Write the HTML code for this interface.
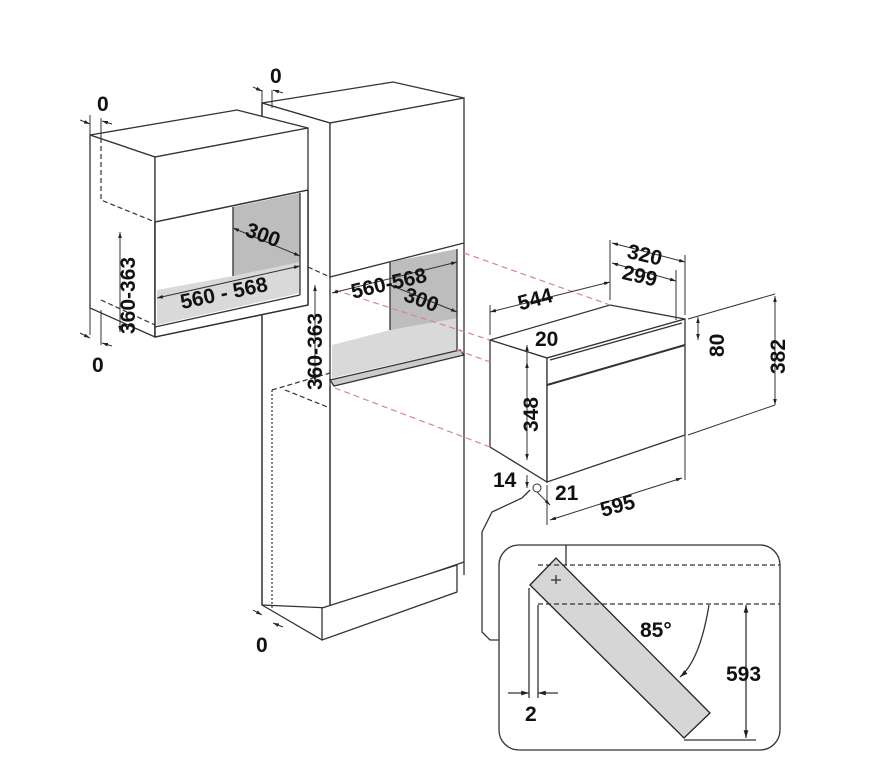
<!DOCTYPE html>
<html><head><style>
html,body{margin:0;padding:0;background:#fff;}
svg{display:block;}
text{font-family:"Liberation Sans",Arial,sans-serif;font-weight:bold;fill:#111;}
</style></head><body>
<svg width="878" height="766" viewBox="0 0 878 766" xmlns="http://www.w3.org/2000/svg">
<defs>
<marker id="a" viewBox="0 0 10 10" refX="10" refY="5" markerWidth="6" markerHeight="6" orient="auto-start-reverse"><path d="M0,2 L10,5 L0,8 z" fill="#222"/></marker>
</defs>
<g stroke="#333" stroke-width="1.3" fill="none">
<!-- TALL CABINET -->
<polygon points="262,103 393,82 464,98 330,123" fill="#fff"/>
<polygon points="262,103 330,123 330,608 262,605" fill="#fff"/>
<polygon points="330,123 464,98 464,243 330,277" fill="#fff"/>
<polygon points="390,262 457,249 457,345 390,360" fill="#bdbdbd" stroke="none"/>
<polygon points="332,345 390,330 457,318 457,350 332,378" fill="#d9d9d9" stroke="none"/>
<line x1="390" y1="262" x2="390" y2="330"/>
<line x1="457" y1="249" x2="457" y2="350"/>
<line x1="464" y1="243" x2="464" y2="575"/>
<polygon points="330,380 460,350 464,355 334,386" fill="#ccc"/>
<line x1="330" y1="386" x2="330" y2="608"/>
<line x1="330" y1="608" x2="464" y2="562"/>
<polygon points="322,608 457,565 457,592 322,640" fill="#fff"/>
<line x1="262" y1="605" x2="322" y2="640"/>
<line x1="262" y1="103" x2="262" y2="605"/>
<!-- LEFT WALL CABINET -->
<polygon points="90,135 237,110 308,128 155,157" fill="#fff"/>
<polygon points="90,135 155,157 155,337 90,308" fill="#fff"/>
<polygon points="155,157 308,128 308,305 155,337" fill="#fff"/>
<polygon points="155,222 308,190 308,305 155,337" fill="#fff"/>
<polygon points="233,207 300,193 300,290 233,304" fill="#bdbdbd" stroke="none"/>
<polygon points="157,290 233,276 300,262 300,293 157,325" fill="#d9d9d9" stroke="none"/>
<line x1="155" y1="222" x2="308" y2="190"/>
<polyline points="233,207 233,276"/>
<line x1="155" y1="222" x2="155" y2="337"/>
<line x1="300" y1="193" x2="300" y2="295"/>
<line x1="308" y1="190" x2="308" y2="305"/>
<line x1="155" y1="327" x2="300" y2="295"/>
<line x1="155" y1="337" x2="308" y2="305"/>
<!-- OVEN -->
<polygon points="490,340 610,305 685,319 547,358" fill="#fff"/>
<polygon points="490,340 547,358 547,482 490,447" fill="#fff"/>
<polygon points="547,358 685,319 685,435 547,482" fill="#fff"/>
<line x1="547" y1="385" x2="685" y2="345" stroke-width="2"/>
<line x1="550" y1="360" x2="682" y2="323"/>
<!-- INSET -->
<rect x="499" y="545" width="281" height="205" rx="20" ry="20"/>
<polyline points="499,640 490,640 482,632 482,532 492,512 522,498 530,490"/>
<line x1="566" y1="545" x2="566" y2="565"/>
<polygon points="530,585 556,558 710,713 684,738" fill="#d6d6d6" stroke="#222"/>
<line x1="556" y1="584" x2="556" y2="575" />
<line x1="551" y1="580" x2="561" y2="580"/>
<line x1="529" y1="588" x2="529" y2="698"/>
<line x1="538" y1="605" x2="538" y2="698"/>
<line x1="684" y1="740" x2="756" y2="740"/>
<line x1="746" y1="605" x2="746" y2="738" marker-start="url(#a)" marker-end="url(#a)"/>
<path d="M709,605 Q700,660 680,677" marker-end="url(#a)"/>
<line x1="508" y1="693" x2="529" y2="693" marker-end="url(#a)"/>
<line x1="558" y1="693" x2="538" y2="693" marker-end="url(#a)"/>
</g>
<g stroke="#333" stroke-width="1.2" fill="none" stroke-dasharray="5,3">
<line x1="538" y1="565" x2="780" y2="565"/>
<line x1="538" y1="604" x2="780" y2="604"/>
<polyline points="101,138 101,200 155,222"/>
<line x1="101" y1="300" x2="155" y2="325"/>
<line x1="308" y1="267" x2="330" y2="277"/>
<polyline points="272,390 272,610" stroke-dasharray="2,2"/>
<line x1="272" y1="390" x2="330" y2="373"/>
<line x1="285" y1="390" x2="330" y2="408"/>
</g>
<g stroke="#d9868a" stroke-width="1.2" fill="none" stroke-dasharray="6,4">
<line x1="464" y1="253" x2="610" y2="305"/>
<line x1="335" y1="290" x2="490" y2="340"/>
<line x1="457" y1="350" x2="490" y2="362"/>
<line x1="335" y1="388" x2="490" y2="447"/>
</g>
<g stroke="#333" stroke-width="1" fill="none">
<line x1="490" y1="335" x2="490" y2="305"/>
<line x1="610" y1="300" x2="610" y2="240"/>
<line x1="685" y1="315" x2="685" y2="255"/>
<line x1="676" y1="320" x2="676" y2="270"/>
<line x1="685" y1="319" x2="685" y2="480"/>
<line x1="547" y1="485" x2="547" y2="525"/>
<line x1="490" y1="312" x2="610" y2="282" marker-start="url(#a)" marker-end="url(#a)"/>
<line x1="612" y1="243" x2="685" y2="262" marker-start="url(#a)" marker-end="url(#a)"/>
<line x1="612" y1="263" x2="676" y2="281" marker-start="url(#a)" marker-end="url(#a)"/>
<line x1="550" y1="520" x2="682" y2="478" marker-start="url(#a)" marker-end="url(#a)"/>
<line x1="688" y1="319" x2="775" y2="294"/>
<line x1="688" y1="435" x2="775" y2="405"/>
<line x1="775" y1="296" x2="775" y2="405" marker-start="url(#a)" marker-end="url(#a)"/>
<line x1="698" y1="317" x2="698" y2="340" marker-start="url(#a)" marker-end="url(#a)"/>
<line x1="527" y1="345" x2="527" y2="362" marker-start="url(#a)"/>
<line x1="527" y1="362" x2="527" y2="460" marker-start="url(#a)" marker-end="url(#a)"/>
<line x1="527" y1="475" x2="527" y2="488" marker-end="url(#a)"/>
<circle cx="537" cy="488" r="4" fill="#fff"/>
<line x1="537" y1="492" x2="550" y2="505" marker-end="url(#a)"/>
<line x1="233" y1="228" x2="300" y2="256" marker-start="url(#a)" marker-end="url(#a)"/>
<line x1="157" y1="298" x2="300" y2="266" marker-start="url(#a)" marker-end="url(#a)"/>
<line x1="120" y1="232" x2="120" y2="332" marker-start="url(#a)" marker-end="url(#a)"/>
<line x1="332" y1="293" x2="457" y2="262" marker-start="url(#a)" marker-end="url(#a)"/>
<line x1="390" y1="285" x2="457" y2="312" marker-start="url(#a)" marker-end="url(#a)"/>
<line x1="315" y1="285" x2="315" y2="382" marker-start="url(#a)" marker-end="url(#a)"/>
<line x1="80" y1="120" x2="90" y2="124" marker-end="url(#a)"/>
<line x1="112" y1="124" x2="102" y2="121" marker-end="url(#a)"/>
<line x1="90" y1="115" x2="90" y2="135"/>
<line x1="101" y1="118" x2="101" y2="138"/>
<line x1="90" y1="308" x2="90" y2="335"/>
<line x1="101" y1="310" x2="101" y2="345"/>
<line x1="80" y1="333" x2="90" y2="338" marker-end="url(#a)"/>
<line x1="112" y1="346" x2="102" y2="343" marker-end="url(#a)"/>
<line x1="262" y1="90" x2="262" y2="103"/>
<line x1="272" y1="90" x2="272" y2="108"/>
<line x1="253" y1="87" x2="262" y2="91" marker-end="url(#a)"/>
<line x1="283" y1="93" x2="273" y2="90" marker-end="url(#a)"/>
<line x1="253" y1="610" x2="262" y2="615" marker-end="url(#a)"/>
<line x1="283" y1="627" x2="273" y2="623" marker-end="url(#a)"/>
</g>
<g font-size="21">
<text x="97" y="111">0</text>
<text x="92" y="372">0</text>
<text x="270" y="83">0</text>
<text x="256" y="652">0</text>
<text x="243" y="242" transform="rotate(20 262 242)">300</text>
<text x="180" y="302" transform="rotate(-12 215 296)">560 - 568</text>
<text x="135" y="334" transform="rotate(-90 135 334)">360-363</text>
<text x="350" y="290" transform="rotate(-13 390 282)">560-568</text>
<text x="404" y="308" transform="rotate(20 425 300)">300</text>
<text x="322" y="390" transform="rotate(-90 322 390)">360-363</text>
<text x="518" y="305" transform="rotate(-15 540 300)">544</text>
<text x="627" y="262" transform="rotate(13 645 256)">320</text>
<text x="622" y="283" transform="rotate(13 640 277)">299</text>
<text x="535" y="346">20</text>
<text x="538" y="432" transform="rotate(-90 538 432)">348</text>
<text x="493" y="487">14</text>
<text x="555" y="500">21</text>
<text x="600" y="512" transform="rotate(-15 620 505)">595</text>
<text x="724" y="357" transform="rotate(-90 724 357)">80</text>
<text x="785" y="374" transform="rotate(-90 785 374)">382</text>
<text x="640" y="637">85°</text>
<text x="726" y="681">593</text>
<text x="525" y="721">2</text>
</g>
</svg>
</body></html>
